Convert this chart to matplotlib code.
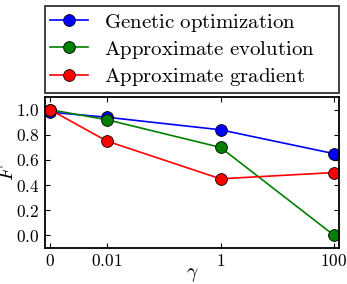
import matplotlib
matplotlib.use("Agg")
import matplotlib.pyplot as plt
from matplotlib.ticker import FixedLocator, FixedFormatter, NullLocator

plt.rcParams["mathtext.fontset"] = "cm"
plt.rcParams["font.family"] = "serif"
plt.rcParams["font.serif"] = ["DejaVu Serif"]

gamma = [0, 0.01, 1, 100]
gamma_labels = ["0", "0.01", "1", "100"]
genetic = [0.98, 0.94, 0.84, 0.65]
evolution = [1.0, 0.92, 0.70, 0.0]
gradient = [1.0, 0.75, 0.45, 0.50]
y_ticks = [0.0, 0.2, 0.4, 0.6, 0.8, 1.0]

fig = plt.figure(figsize=(3.47, 2.84), dpi=100)
ax = fig.add_axes([0.130, 0.127, 0.847, 0.531])

style = dict(marker="o", markersize=8.5, markeredgecolor="k", markeredgewidth=0.6, lw=1.2)
ax.plot(gamma, genetic, color="b", label=r"$\mathrm{Genetic\ optimization}$", **style)
ax.plot(gamma, evolution, color="g", label=r"$\mathrm{Approximate\ evolution}$", **style)
ax.plot(gamma, gradient, color="r", label=r"$\mathrm{Approximate\ gradient}$", **style)

# symlog: the 0..0.01 stretch takes about one decade
ax.set_xscale("symlog", linthresh=0.01, linscale=0.9)
ax.set_xlim(-0.00088, 122)
ax.set_ylim(-0.1, 1.1)
ax.xaxis.set_major_locator(FixedLocator(gamma))
ax.xaxis.set_major_formatter(FixedFormatter(["$%s$" % s for s in gamma_labels]))
ax.xaxis.set_minor_locator(NullLocator())
ax.yaxis.set_major_locator(FixedLocator(y_ticks))
ax.yaxis.set_major_formatter(FixedFormatter(["$%.1f$" % v for v in y_ticks]))
ax.tick_params(direction="in", top=True, right=True, labelsize=12.5, length=3.5, width=0.8, pad=4)
for s in ax.spines.values():
    s.set_linewidth(1.3)

ax.set_xlabel(r"$\gamma$", fontsize=14, labelpad=-3)
ax.set_ylabel(r"$F$", fontsize=14)
ax.yaxis.set_label_coords(-0.095, 0.5)

leg = ax.legend(loc="lower left", bbox_to_anchor=(0, 1.026, 1, 0.6), mode="expand",
                fontsize=15, frameon=True, fancybox=False, borderaxespad=0,
                handlelength=1.8, labelspacing=0.25, borderpad=0.25)
leg.get_frame().set_edgecolor("k")
leg.get_frame().set_linewidth(1.3)

fig.savefig("out.png", dpi=100)
